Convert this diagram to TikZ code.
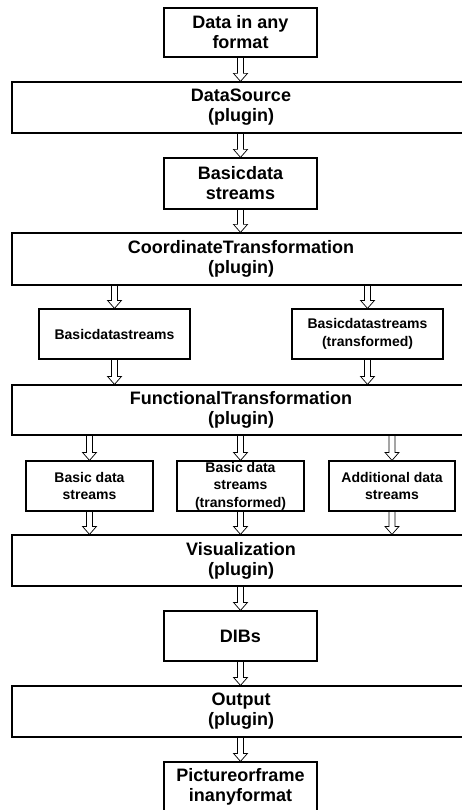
\documentclass[tikz,border=0pt]{standalone}
\usepackage{fontspec}
\setmainfont{Liberation Sans}
\usetikzlibrary{calc}
\begin{document}
\begin{tikzpicture}[x=1pt,y=-1pt,
  box/.style={draw, line width=1.2pt, inner sep=0pt, align=center, font=\bfseries\fontsize{18}{20}\selectfont},
  wide/.style={box, minimum width=458pt},
  mid/.style={box, minimum width=153pt},
  small/.style={box, font=\bfseries\fontsize{14}{17.5}\selectfont},
  fat/.style={line width=0.7pt, to path={let \p1=(\tikztostart), \p2=(\tikztotarget) in
    (\x1-3pt,\y1) -- (\x1-3pt,\y2+8pt) -- (\x1-7pt,\y2+8pt) -- (\x1,\y2) -- (\x1+7pt,\y2+8pt) -- (\x1+3pt,\y2+8pt) -- (\x1+3pt,\y1)}}]
\useasboundingbox (0,0) rectangle (462,810);
\node[mid, minimum height=49pt] (d1) at (240.5,32.5) {Data in any\\format};
\node[wide, minimum height=51pt] (ds) at (241,107.5) {DataSource\\(plugin)};
\node[mid, minimum height=51pt] (bds) at (240.5,183.5) {Basicdata\\streams};
\node[wide, minimum height=52pt] (ct) at (241,259) {CoordinateTransformation\\(plugin)};
\node[small, minimum width=151pt, minimum height=50pt] (lb) at (114.5,334) {Basicdatastreams};
\node[small, minimum width=151pt, minimum height=50pt] (rb) at (367.5,334) {Basicdatastreams\\(transformed)};
\node[wide, minimum height=50pt] (ft) at (241,410) {FunctionalTransformation\\(plugin)};
\node[small, minimum width=127pt, minimum height=50pt] (b1) at (89.5,486) {Basic data\\streams};
\node[small, minimum width=127pt, minimum height=50pt] (b2) at (240.5,486) {Basic data\\streams\\(transformed)};
\node[small, minimum width=126pt, minimum height=50pt] (b3) at (392,486) {Additional data\\streams};
\node[wide, minimum height=51pt] (vis) at (241,560.5) {Visualization\\(plugin)};
\node[mid, minimum height=50pt] (dib) at (240.5,636) {DIBs};
\node[wide, minimum height=51pt] (out) at (241,711.5) {Output\\(plugin)};
\node[mid, minimum height=50pt] (pic) at (240.5,787) {Pictureorframe\\inanyformat};
\draw[fat] (d1.south) to (d1.south |- ds.north);
\draw[fat] (ds.south -| bds.north) to (bds.north);
\draw[fat] (bds.south) to (bds.south |- ct.north);
\draw[fat] (ct.south -| lb.north) to (lb.north);
\draw[fat] (ct.south -| rb.north) to (rb.north);
\draw[fat] (lb.south) to (lb.south |- ft.north);
\draw[fat] (rb.south) to (rb.south |- ft.north);
\draw[fat] (ft.south -| b1.north) to (b1.north);
\draw[fat] (ft.south -| b2.north) to (b2.north);
\draw[fat] (ft.south -| b3.north) to (b3.north);
\draw[fat] (b1.south) to (b1.south |- vis.north);
\draw[fat] (b2.south) to (b2.south |- vis.north);
\draw[fat] (b3.south) to (b3.south |- vis.north);
\draw[fat] (vis.south -| dib.north) to (dib.north);
\draw[fat] (dib.south) to (dib.south |- out.north);
\draw[fat] (out.south -| pic.north) to (pic.north);
\end{tikzpicture}
\end{document}
